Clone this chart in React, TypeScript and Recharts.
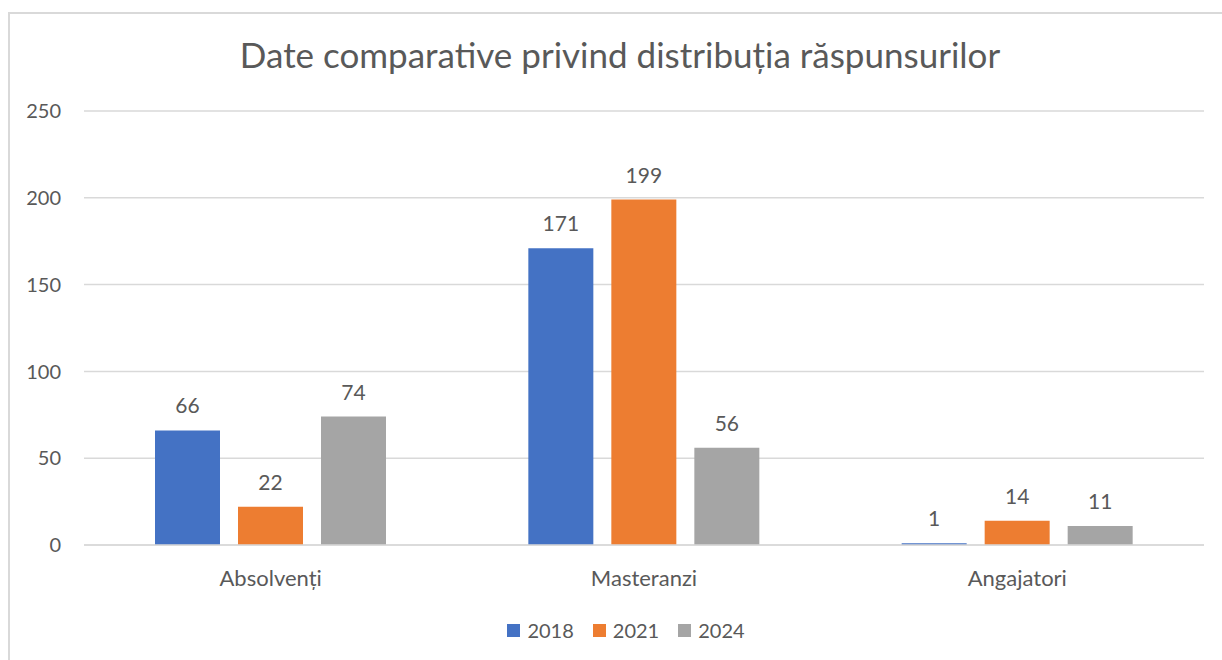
import React from 'react';
import { BarChart, Bar, XAxis, YAxis, CartesianGrid, Legend, LabelList } from 'recharts';

const categories = ['Absolvenți', 'Masteranzi', 'Angajatori'];
const series2018 = [66, 171, 1];
const series2021 = [22, 199, 14];
const series2024 = [74, 56, 11];
const yTicks = [0, 50, 100, 150, 200, 250];
const seriesKeys = ['2018', '2021', '2024'];
const seriesColors = ['#4472C4', '#ED7D31', '#A5A5A5'];
const title = 'Date comparative privind distribuția răspunsurilor';

const data = categories.map((c, i) => ({
  name: c,
  '2018': series2018[i],
  '2021': series2021[i],
  '2024': series2024[i],
}));

const FONT = 'Lato, "Open Sans", sans-serif';
const TEXT = '#595959';

const renderLegend = (props: any) => {
  const payload = props.payload || [];
  return (
    <div style={{ display: 'flex', justifyContent: 'center', alignItems: 'center', fontFamily: FONT, fontSize: 20, color: TEXT, paddingLeft: 30 }}>
      {payload.map((p: any, i: number) => (
        <div key={i} style={{ display: 'flex', alignItems: 'center', marginRight: i < payload.length - 1 ? 19 : 0 }}>
          <span style={{ display: 'inline-block', width: 13, height: 13, background: p.color, marginRight: 7 }} />
          <span>{p.value}</span>
        </div>
      ))}
    </div>
  );
};

export default function App() {
  return (
    <div style={{ position: 'relative', width: 1222, height: 660, overflow: 'hidden', background: '#fff' }}>
      <style>{'body{margin:0;overflow:hidden;}'}</style>
      <div style={{ position: 'absolute', left: 8, top: 12, width: 1240, height: 700, borderLeft: '2px solid #d9d9d9', borderTop: '2px solid #d9d9d9', boxSizing: 'border-box' }} />
      <svg style={{ position: 'absolute', left: 0, top: 0 }} width={1222} height={100}>
        <text x={620} y={68} textAnchor="middle" fontFamily={FONT} fontSize={35} fill={TEXT}>{title}</text>
      </svg>
      <div style={{ position: 'absolute', left: 0, top: 0 }}>
        <BarChart
          width={1222}
          height={660}
          data={data}
          margin={{ top: 111, right: 18, left: 0, bottom: 55 }}
          barSize={65}
          barGap={18}
        >
          <CartesianGrid vertical={false} stroke="#d9d9d9" strokeWidth={1.5} />
          <XAxis
            dataKey="name"
            height={60}
            tickSize={0}
            tickMargin={25}
            axisLine={{ stroke: '#d9d9d9', strokeWidth: 1.5 }}
            tickLine={false}
            tick={{ fill: TEXT, fontSize: 22, fontFamily: FONT }}
          />
          <YAxis
            width={84}
            domain={[0, 250]}
            ticks={yTicks}
            tickSize={0}
            tickMargin={23}
            axisLine={false}
            tickLine={false}
            tick={{ fill: TEXT, fontSize: 20, fontFamily: FONT }}
          />
          <Legend
            layout="horizontal"
            verticalAlign="middle"
            align="center"
            content={renderLegend}
            wrapperStyle={{ top: 618, left: 0, width: 1222 }}
          />
          {seriesKeys.map((k, i) => (
            <Bar key={k} dataKey={k} fill={seriesColors[i]} isAnimationActive={false}>
              <LabelList dataKey={k} position="top" offset={17} fill={TEXT} fontSize={21} fontFamily={FONT} />
            </Bar>
          ))}
        </BarChart>
      </div>
    </div>
  );
}
